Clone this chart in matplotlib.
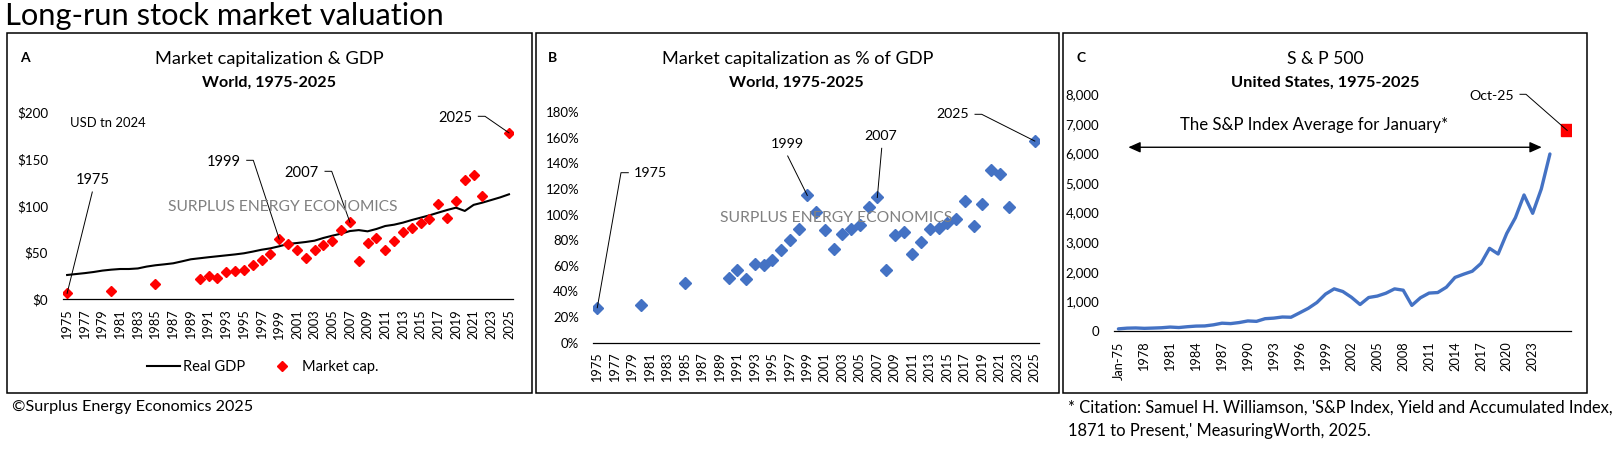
import matplotlib
matplotlib.use('Agg')
import matplotlib.pyplot as plt
from matplotlib.patches import Rectangle, FancyArrowPatch, ArrowStyle
from matplotlib.lines import Line2D

plt.rcParams['font.family'] = ['Lato', 'DejaVu Sans']

# ---------------- data ----------------
gdp_years = list(range(1975, 2026))
real_gdp = [26, 27, 28, 29.2, 30.7, 31.7, 32.4, 32.4, 33, 35,
            36.4, 37.4, 38.5, 40.6, 42.8, 43.9, 45, 46, 47, 48,
            49.2, 51, 53, 54.5, 56.7, 59.2, 60.2, 61.3, 62.7, 65.6,
            68, 70.2, 73, 74, 72.7, 75.2, 78.4, 79.8, 82, 84.8,
            87.3, 89.8, 92.7, 95.5, 98, 94.5, 101, 103.4, 106.2, 109, 112.3]

mcap_years = [1975, 1980, 1985] + list(range(1990, 2023)) + [2025]
market_cap = [6.4, 9.3, 16.4,
              21.7, 25, 22.8, 28.9, 30, 31.4, 36.7, 42, 48.5, 64.5,
              59.2, 52.8, 44.6, 52.8, 58.5, 62.7, 74.2, 82.4, 41.4, 60.6,
              65.6, 52.8, 62.7, 72, 76.3, 82, 86.3, 102, 87, 105,
              127.6, 133, 111,
              178]
mcap_pct_gdp = [27.2, 29.5, 46.8,
                50.7, 57, 49.9, 61.7, 60.3, 64.3, 72.1, 80.5, 89.1, 115,
                102, 88.3, 72.9, 84.6, 89.1, 92.2, 106, 113.4, 56.4, 83.9,
                86.5, 69, 78.4, 88.8, 89.6, 93.8, 96.9, 111, 91.4, 108.2,
                134.8, 131.4, 105.8,
                157.5]

sp_categories = ['Jan-75'] + [str(y) for y in range(1976, 2026)] + ['', 'Oct-25']
sp_january = [72, 96, 103, 90, 99, 110, 133, 117, 145, 166,
              171, 208, 264, 250, 286, 340, 326, 416, 435, 473,
              465, 614, 766, 963, 1248, 1425, 1335, 1140, 895, 1132,
              1181, 1278, 1424, 1379, 866, 1124, 1282, 1300, 1480, 1810,
              1920, 2020, 2280, 2794, 2603, 3300, 3830, 4597, 3978, 4800, 5983]
sp_oct25 = 6780

a_yticks = [0, 50, 100, 150, 200]
b_yticks = [0, 20, 40, 60, 80, 100, 120, 140, 160, 180]
c_yticks = [0, 1000, 2000, 3000, 4000, 5000, 6000, 7000, 8000]

# ---------------- figure ----------------
W, H = 1616, 457
fig = plt.figure(figsize=(W / 100, H / 100), dpi=100)
renderer = fig.canvas.get_renderer()

BLUE = '#4472C4'
RED = '#FF0000'
GREY = '#808080'


def size_for(s, target_w, weight='normal'):
    t = fig.text(0, 0, s, fontsize=10, fontweight=weight)
    w = t.get_window_extent(renderer).width
    t.remove()
    return 10 * target_w / w


def add_text(x, y, s, target_w, weight='normal', ha='center', va='center', color='black'):
    size = size_for(s, target_w, weight)
    return fig.text(x / W, 1 - y / H, s, fontsize=size, fontweight=weight,
                    ha=ha, va=va, color=color)


def axes_px(left, top, right, bottom):
    return fig.add_axes([left / W, 1 - bottom / H, (right - left) / W, (bottom - top) / H])


def leader(ax, pts_px, xd, yd):
    dx, dy = ax.transData.transform((xd, yd))
    fx, fy = fig.transFigure.inverted().transform((dx, dy))
    xs = [p[0] / W for p in pts_px] + [fx]
    ys = [1 - p[1] / H for p in pts_px] + [fy]
    fig.add_artist(Line2D(xs, ys, transform=fig.transFigure, color='black', lw=0.7))


def box(left, top, right, bottom):
    fig.add_artist(Rectangle((left / W, 1 - bottom / H), (right - left) / W, (bottom - top) / H,
                             transform=fig.transFigure, fill=False, edgecolor='black', lw=1.1))


def style_axes(ax, ytick_size, xtick_size, ypad, xpad):
    for s in ['left', 'right', 'top']:
        ax.spines[s].set_visible(False)
    ax.spines['bottom'].set_linewidth(0.9)
    ax.tick_params(axis='both', length=0)
    ax.tick_params(axis='y', labelsize=ytick_size, pad=ypad)
    ax.tick_params(axis='x', labelsize=xtick_size, pad=xpad, labelrotation=90)
    ax.set_facecolor('none')


tick_fs = size_for('1975', 29.5)
ya_fs = size_for('$200', 31)
yb_fs = size_for('180%', 33.5)
yc_fs = size_for('8,000', 33.5)

# ---------------- Panel A ----------------
axA = axes_px(62.7, 112.3, 513.4, 299.3)
axA.plot(gdp_years, real_gdp, color='black', lw=1.5, label='Real GDP', zorder=2)
axA.plot(mcap_years, market_cap, linestyle='none', marker='D', ms=5.4, color=RED,
         label='Market cap.', zorder=3)
axA.set_xlim(1974.5, 2025.5)
axA.set_ylim(0, 200)
axA.set_yticks(a_yticks)
axA.set_yticklabels([f'${v}' for v in a_yticks])
axA.set_xticks(gdp_years[::2])
axA.set_xticklabels([str(y) for y in gdp_years[::2]])
style_axes(axA, ya_fs, tick_fs, 10.6, 7.5)

# ---------------- Panel B ----------------
axB = axes_px(592.9, 112.3, 1039.2, 342.5)
axB.plot(mcap_years, mcap_pct_gdp, linestyle='none', marker='D', ms=6.0, color=BLUE, zorder=3)
axB.set_xlim(1974.5, 2025.5)
axB.set_ylim(0, 180)
axB.set_yticks(b_yticks)
axB.set_yticklabels([f'{v}%' for v in b_yticks])
axB.set_xticks(gdp_years[::2])
axB.set_xticklabels([str(y) for y in gdp_years[::2]])
style_axes(axB, yb_fs, tick_fs, 9.8, 7.0)

# ---------------- Panel C ----------------
axC = axes_px(1114.1, 94.3, 1571.5, 331.0)
sp_x = list(range(len(sp_january)))
axC.plot(sp_x, sp_january, color=BLUE, lw=2.4, solid_capstyle='round', zorder=2)
oct_idx = sp_categories.index('Oct-25')
axC.plot([oct_idx], [sp_oct25], linestyle='none', marker='s', ms=9.2, color=RED, zorder=3)
axC.set_xlim(-0.5, len(sp_categories) - 0.5)
axC.set_ylim(0, 8000)
axC.set_yticks(c_yticks)
axC.set_yticklabels([f'{v:,}' for v in c_yticks])
c_xt = list(range(0, 49, 3))
axC.set_xticks(c_xt)
axC.set_xticklabels([sp_categories[i] for i in c_xt])
style_axes(axC, yc_fs, tick_fs, 10.7, 7.5)

arrow = FancyArrowPatch((1.15, 6210), (49.05, 6210), transform=axC.transData,
                        arrowstyle=ArrowStyle('<|-|>', head_length=0.72, head_width=0.32),
                        mutation_scale=10, shrinkA=0, shrinkB=0, color='black', lw=1.0)
axC.add_patch(arrow)

# ---------------- boxes ----------------
box(7.3, 33.3, 531.5, 392.5)
box(535.7, 33.3, 1059.0, 392.5)
box(1063.3, 33.3, 1587.3, 393.0)

# ---------------- texts ----------------
add_text(5.2, 25.5, 'Long-run stock market valuation', 440, ha='left', va='baseline')

fig.text(25 / W, 1 - 58.3 / H, 'A', fontsize=10, fontweight='bold', ha='center', va='center')
add_text(269.2, 59, 'Market capitalization & GDP', 228.3)
add_text(269.5, 82.3, 'World, 1975-2025', 134.3, weight='bold')
add_text(108.2, 123.3, 'USD tn 2024', 75)
add_text(282.5, 206.7, 'SURPLUS ENERGY ECONOMICS', 228.3, color=GREY)

fig.text(552.7 / W, 1 - 57.8 / H, 'B', fontsize=10, fontweight='bold', ha='center', va='center')
add_text(797.2, 59, 'Market capitalization as % of GDP', 271)
add_text(796.8, 82.3, 'World, 1975-2025', 135, weight='bold')
add_text(836.4, 217.7, 'SURPLUS ENERGY ECONOMICS', 229.3, color=GREY)

fig.text(1081 / W, 1 - 57.8 / H, 'C', fontsize=10, fontweight='bold', ha='center', va='center')
add_text(1325, 59, 'S & P 500', 76.7)
add_text(1325, 82.3, 'United States, 1975-2025', 190, weight='bold')
add_text(1314.5, 125, 'The S&P Index Average for January*', 267.7)

# annotations panel A
add_text(92.7, 180, '1975', 34)
leader(axA, [(92.3, 192)], mcap_years[0], market_cap[0])
add_text(223.3, 161.7, '1999', 34)
i99 = mcap_years.index(1999)
leader(axA, [(246.7, 160.3), (253.3, 160.3)], 1999, market_cap[i99])
add_text(301.7, 172.7, '2007', 34)
i07 = mcap_years.index(2007)
leader(axA, [(325, 171.3), (331.7, 171.3)], 2007, market_cap[i07])
add_text(455, 117.7, '2025', 34)
leader(axA, [(478.3, 116.3), (485, 116.3)], 2025, market_cap[-1])

# annotations panel B
add_text(650.5, 172.7, '1975', 33)
leader(axB, [(628.3, 172.7), (621, 172.7)], mcap_years[0], mcap_pct_gdp[0])
add_text(787.7, 144.3, '1999', 33)
leader(axB, [(787.7, 156)], 1999, mcap_pct_gdp[i99])
add_text(881, 136, '2007', 33)
leader(axB, [(881.7, 148.3)], 2007, mcap_pct_gdp[i07])
add_text(952.3, 114.3, '2025', 33)
leader(axB, [(975, 114.3), (981.7, 114.3)], 2025, mcap_pct_gdp[-1])

# annotation panel C
add_text(1491.7, 96, 'Oct-25', 44.7)
leader(axC, [(1520, 94.3), (1526, 94.3)], oct_idx, sp_oct25)

# legend panel A
leg_fs = size_for('Real GDP', 61.7)
fs_px = leg_fs * 100 / 72
handles = [Line2D([], [], color='black', lw=1.5),
           Line2D([], [], color=RED, marker='D', ms=5.4, linestyle='none')]
fig.legend(handles, ['Real GDP', 'Market cap.'], loc='center left',
           bbox_to_anchor=(146.7 / W, 1 - 366.7 / H), ncol=2, frameon=False,
           fontsize=leg_fs, handlelength=33.3 / fs_px, handletextpad=3.3 / fs_px,
           columnspacing=20 / fs_px, borderpad=0, borderaxespad=0)

# footers
add_text(11.7, 406.7, '©Surplus Energy Economics 2025', 241.6, ha='left')
cite_fs = size_for("* Citation: Samuel H. Williamson, 'S&P Index, Yield and Accumulated Index,", 543)
fig.text(1068.3 / W, 1 - 407.3 / H,
         "* Citation: Samuel H. Williamson, 'S&P Index, Yield and Accumulated Index,",
         fontsize=cite_fs, ha='left', va='center')
fig.text(1068.3 / W, 1 - 430.7 / H, "1871 to Present,' MeasuringWorth, 2025.",
         fontsize=cite_fs, ha='left', va='center')

fig.savefig('out.png', dpi=100, facecolor='white')
